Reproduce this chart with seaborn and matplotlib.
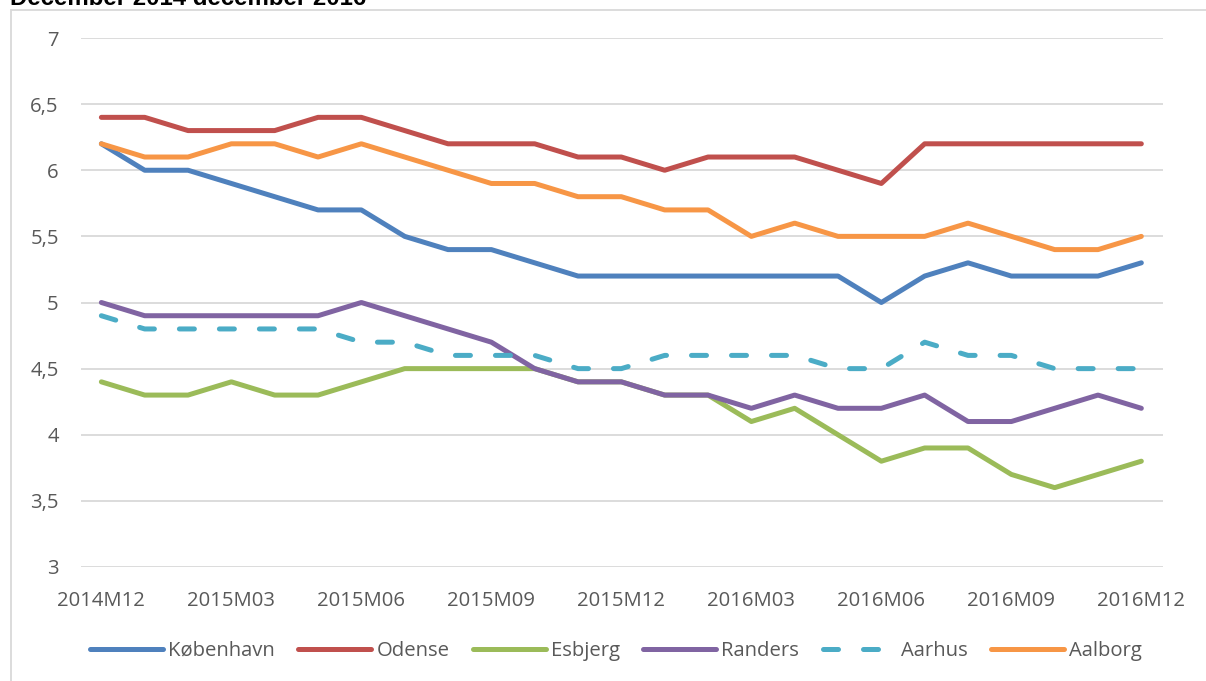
import pandas as pd
import seaborn as sns
import matplotlib.pyplot as plt
from matplotlib.patches import Rectangle

months = ['2014M12', '2015M01', '2015M02', '2015M03', '2015M04', '2015M05', '2015M06',
          '2015M07', '2015M08', '2015M09', '2015M10', '2015M11', '2015M12',
          '2016M01', '2016M02', '2016M03', '2016M04', '2016M05', '2016M06',
          '2016M07', '2016M08', '2016M09', '2016M10', '2016M11', '2016M12']

koebenhavn = [6.2, 6.0, 6.0, 5.9, 5.8, 5.7, 5.7, 5.5, 5.4, 5.4, 5.3, 5.2, 5.2,
              5.2, 5.2, 5.2, 5.2, 5.2, 5.0, 5.2, 5.3, 5.2, 5.2, 5.2, 5.3]
odense = [6.4, 6.4, 6.3, 6.3, 6.3, 6.4, 6.4, 6.3, 6.2, 6.2, 6.2, 6.1, 6.1,
          6.0, 6.1, 6.1, 6.1, 6.0, 5.9, 6.2, 6.2, 6.2, 6.2, 6.2, 6.2]
esbjerg = [4.4, 4.3, 4.3, 4.4, 4.3, 4.3, 4.4, 4.5, 4.5, 4.5, 4.5, 4.4, 4.4,
           4.3, 4.3, 4.1, 4.2, 4.0, 3.8, 3.9, 3.9, 3.7, 3.6, 3.7, 3.8]
randers = [5.0, 4.9, 4.9, 4.9, 4.9, 4.9, 5.0, 4.9, 4.8, 4.7, 4.5, 4.4, 4.4,
           4.3, 4.3, 4.2, 4.3, 4.2, 4.2, 4.3, 4.1, 4.1, 4.2, 4.3, 4.2]
aarhus = [4.9, 4.8, 4.8, 4.8, 4.8, 4.8, 4.7, 4.7, 4.6, 4.6, 4.6, 4.5, 4.5,
          4.6, 4.6, 4.6, 4.6, 4.5, 4.5, 4.7, 4.6, 4.6, 4.5, 4.5, 4.5]
aalborg = [6.2, 6.1, 6.1, 6.2, 6.2, 6.1, 6.2, 6.1, 6.0, 5.9, 5.9, 5.8, 5.8,
           5.7, 5.7, 5.5, 5.6, 5.5, 5.5, 5.5, 5.6, 5.5, 5.4, 5.4, 5.5]

cities = ['København', 'Odense', 'Esbjerg', 'Randers', 'Aarhus', 'Aalborg']
values = [koebenhavn, odense, esbjerg, randers, aarhus, aalborg]
colors = ['#4F81BD', '#C0504D', '#9BBB59', '#8064A2', '#4BACC6', '#F79646']

sns.set_theme(style='white')
plt.rcParams['font.family'] = ['Open Sans', 'DejaVu Sans']

fig = plt.figure(figsize=(12.06, 6.81), dpi=100)
ax = fig.add_axes([81/1206, 1 - 567/681, (1163 - 81)/1206, (567 - 38)/681])

for city, vals, col in zip(cities, values, colors):
    df = pd.DataFrame({'idx': range(len(months)), 'val': vals})
    g = sns.lineplot(data=df, x='idx', y='val', color=col, lw=3.6, ax=ax, label=city)
    line = g.get_lines()[-1]
    line.set_solid_capstyle('round')
    line.set_solid_joinstyle('round')
    if city == 'Aarhus':
        line.set_dashes((3, 5))
        line.set_dash_capstyle('round')

ax.set_xlim(-0.47, 24.5)
ax.set_ylim(3, 7)
ax.set_yticks([3, 3.5, 4, 4.5, 5, 5.5, 6, 6.5, 7])
ax.set_yticklabels(['3', '3,5', '4', '4,5', '5', '5,5', '6', '6,5', '7'])
ax.set_xticks(range(0, 25, 3))
ax.set_xticklabels(months[::3])
ax.set_xlabel('')
ax.set_ylabel('')
ax.grid(axis='y', color='#D9D9D9', lw=1.3)
ax.set_axisbelow(True)
for s in ax.spines.values():
    s.set_visible(False)
ax.tick_params(axis='both', length=0, labelsize=14.6, labelcolor='#595959')
ax.tick_params(axis='y', pad=16)
ax.tick_params(axis='x', pad=17)

handles, labels = ax.get_legend_handles_labels()
ax.legend_.remove()
fig.legend(handles, labels, loc='center', bbox_to_anchor=(616/1206, 1 - 651/681), ncol=6,
           frameon=False, fontsize=14.6, labelcolor='#595959', handlelength=3.6,
           handletextpad=0.25, columnspacing=1.15)

fig.patches.append(Rectangle((11/1206, -0.1), 1.2, 1 - 10/681 + 0.1, transform=fig.transFigure,
                             fill=False, edgecolor='#D9D9D9', lw=1.3))
fig.text(10/1206, 1 - 5/681, 'December 2014 december 2016', fontsize=17.3, fontweight='bold',
         family='Liberation Sans', color='black', ha='left', va='baseline')

fig.savefig('out.png', dpi=100)
